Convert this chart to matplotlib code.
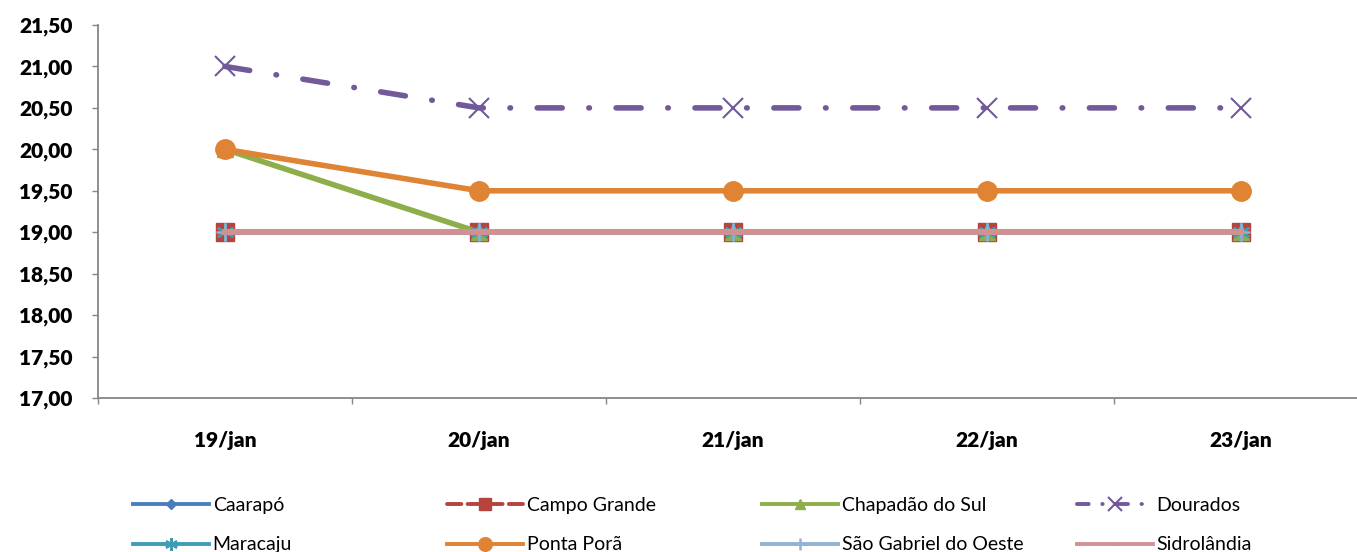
import numpy as np
import matplotlib.pyplot as plt
from matplotlib.lines import Line2D

plt.rcParams['font.family'] = ['Lato', 'DejaVu Sans']

dates = ["19/jan", "20/jan", "21/jan", "22/jan", "23/jan"]
caarapo = [19.0, 19.0, 19.0, 19.0, 19.0]
campo_grande = [19.0, 19.0, 19.0, 19.0, 19.0]
chapadao = [20.0, 19.0, 19.0, 19.0, 19.0]
dourados = [21.0, 20.5, 20.5, 20.5, 20.5]
maracaju = [19.0, 19.0, 19.0, 19.0, 19.0]
ponta_pora = [20.0, 19.5, 19.5, 19.5, 19.5]
sao_gabriel = [19.0, 19.0, 19.0, 19.0, 19.0]
sidrolandia = [19.0, 19.0, 19.0, 19.0, 19.0]

names = ["Caarapó", "Campo Grande", "Chapadão do Sul", "Dourados",
         "Maracaju", "Ponta Porã", "São Gabriel do Oeste", "Sidrolândia"]
series = [caarapo, campo_grande, chapadao, dourados,
          maracaju, ponta_pora, sao_gabriel, sidrolandia]

styles = [
    dict(color="#4A7EBB", marker="D", ms=8, ls="-"),
    dict(color="#B5443F", marker="s", ms=13, ls="--"),
    dict(color="#8DAE4A", marker="^", ms=11, ls="-"),
    dict(color="#71599A", marker="x", ms=14, mew=1.5, ls=(0, (4.5, 4.8, 0.1, 4.8))),
    dict(color="#3E9DB5", marker=(6, 2, 0), ms=13, mew=1.8, ls="-"),
    dict(color="#DE8434", marker="o", ms=14, ls="-"),
    dict(color="#94B2D6", marker="+", ms=13, mew=1.8, ls="-"),
    dict(color="#D49090", marker="_", ms=6, ls="-"),
]

fig = plt.figure(figsize=(13.57, 5.52), dpi=100)
ax = fig.add_axes([98 / 1357, 1 - 398 / 552, 1270 / 1357, 373 / 552])

x = np.arange(len(dates))
handles = []
for name, vals, st in zip(names, series, styles):
    st = dict(st)
    ls = st.pop("ls")
    ax.plot(x, vals, linestyle=ls, lw=4, dash_capstyle="round",
            clip_on=False, **st)
    # thinner copy of the style for the legend key
    mew = st.pop("mew", 1.0)
    ms = st.pop("ms") * 0.7
    if ls != "-" and not isinstance(ls, str):
        ls = (0, (3, 3.5, 0.1, 3.5))
    handles.append(Line2D([], [], linestyle=ls, lw=2.8, ms=ms, mew=mew,
                          dash_capstyle="round", label=name, **st))

ax.set_xlim(-0.5, len(dates) - 0.5)
ax.set_ylim(17, 21.5)
ax.set_yticks(np.arange(17, 21.51, 0.5))
ax.set_yticklabels([f"{v:.2f}".replace(".", ",") for v in np.arange(17, 21.51, 0.5)],
                   fontsize=15, fontweight="heavy")

ax.set_xticks(np.arange(-0.5, len(dates), 1))
ax.set_xticklabels([])
ax.set_xticks(x, minor=True)
ax.set_xticklabels(dates, minor=True, fontsize=15, fontweight="heavy")
ax.tick_params(axis="x", which="minor", length=0, pad=24)
ax.tick_params(axis="x", which="major", length=4.5, width=1, color="#868686")
ax.tick_params(axis="y", length=4.5, width=1, color="#868686", pad=14)

for side in ["top", "right"]:
    ax.spines[side].set_visible(False)
for side in ["left", "bottom"]:
    ax.spines[side].set_color("#868686")
    ax.spines[side].set_linewidth(1.3)

# legend: four columns of two rows, placed individually for even spacing
col_x = [133, 447, 762, 1077]
for i, cx in enumerate(col_x):
    hs = [handles[i], handles[i + 4]]
    fig.legend(hs, [h.get_label() for h in hs], loc="upper left",
               bbox_to_anchor=(cx / 1357, 1 - 497 / 552), frameon=False,
               fontsize=14, handlelength=3.9, handletextpad=0.2,
               labelspacing=1.15, borderpad=0, borderaxespad=0)

fig.savefig("out.png", dpi=100)
